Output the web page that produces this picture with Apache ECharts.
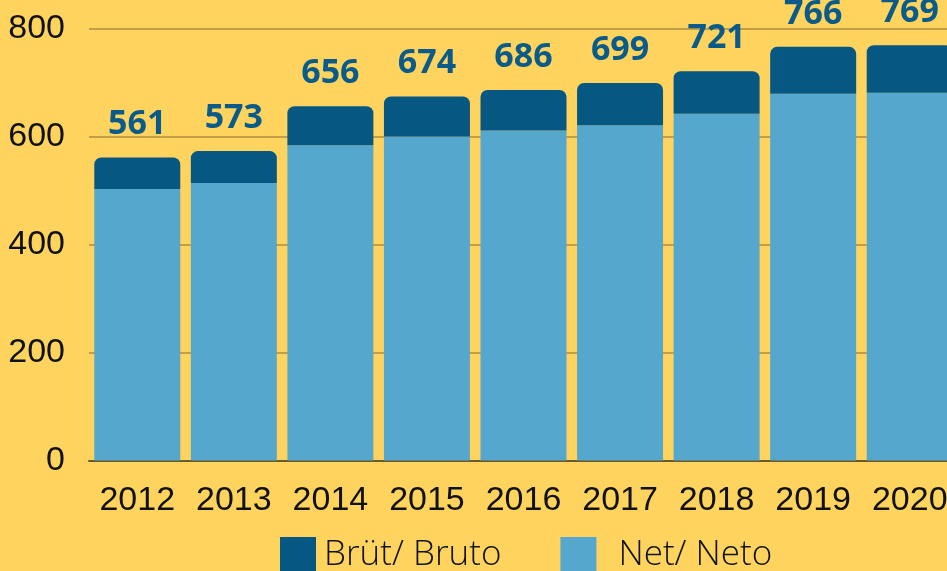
<!DOCTYPE html>
<html>
<head>
<meta charset="utf-8">
<script src="https://cdn.jsdelivr.net/npm/echarts@6/dist/echarts.min.js"></script>
<style>
  html, body { margin: 0; padding: 0; background: #FED45E; overflow: hidden; }
  #chart { width: 958px; height: 571px; }
</style>
</head>
<body>
<div id="chart"></div>
<script>
const years = ['2012', '2013', '2014', '2015', '2016', '2017', '2018', '2019', '2020'];
const gross = [561, 573, 656, 674, 686, 699, 721, 766, 769];
const net = [503, 514, 584, 600, 611, 621, 642, 679, 681];
const yTicks = [0, 200, 400, 600, 800];

// the source chart is cut off on the right, so the canvas is a bit wider than the window
const chart = echarts.init(document.getElementById('chart'));
const topPart = gross.map((g, i) => g - net[i]);

chart.setOption({
  backgroundColor: '#FED45E',
  animation: false,
  grid: { left: 89, right: 0, top: 28.5, bottom: 110.5, containLabel: false },
  legend: {
    left: 280,
    top: 537,
    padding: 0,
    itemWidth: 36,
    itemHeight: 36,
    itemGap: 59,
    icon: 'rect',
    data: [
      { name: 'Brüt/ Bruto' },
      { name: 'Net/ Neto', textStyle: { padding: [0, 0, 0, 17] } }
    ],
    textStyle: { fontFamily: 'Open Sans', fontWeight: 300, fontSize: 35, color: '#111', padding: [0, 0, 0, 3] }
  },
  xAxis: {
    type: 'category',
    data: years,
    axisLine: { lineStyle: { color: '#6B5A2A', width: 2 } },
    axisTick: { show: false },
    axisLabel: { interval: 0, fontFamily: 'Liberation Sans', fontSize: 34, color: '#111', margin: 23 }
  },
  yAxis: {
    type: 'value',
    min: yTicks[0],
    max: yTicks[yTicks.length - 1],
    interval: 200,
    axisLine: { show: false },
    axisTick: { show: false },
    splitLine: { lineStyle: { color: '#C49E45', width: 2 } },
    axisLabel: { fontFamily: 'Liberation Sans', fontSize: 34, color: '#111', margin: 24 }
  },
  series: [
    {
      name: 'Net/ Neto',
      type: 'bar',
      stack: 'total',
      barWidth: 86,
      data: net,
      itemStyle: { color: '#56A7CD' }
    },
    {
      name: 'Brüt/ Bruto',
      type: 'bar',
      stack: 'total',
      barWidth: 86,
      data: topPart,
      itemStyle: { color: '#075783', borderRadius: [7, 7, 0, 0] },
      label: {
        show: true,
        position: 'top',
        distance: 16,
        formatter: p => gross[p.dataIndex],
        fontFamily: 'Open Sans',
        fontWeight: 'bold',
        fontSize: 34,
        color: '#0B5B8A'
      }
    }
  ]
});
</script>
</body>
</html>
